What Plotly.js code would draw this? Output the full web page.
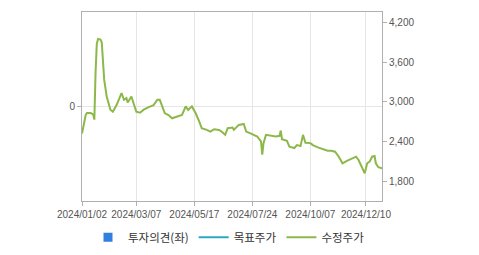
<!DOCTYPE html>
<html>
<head>
<meta charset="utf-8">
<script src="https://cdn.plot.ly/plotly-3.0.1.min.js"></script>
<style>
html,body{margin:0;padding:0;background:#fff;}
#chart{width:479px;height:255px;}
</style>
</head>
<body>
<div id="chart"></div>
<script>
// 수정주가 (adjusted price)
const priceDates = [
  '2024-01-02','2024-01-05','2024-01-08','2024-01-11','2024-01-15','2024-01-16','2024-01-17','2024-01-18',
  '2024-01-19','2024-01-22','2024-01-23','2024-01-24','2024-01-25','2024-01-26','2024-01-30','2024-02-02',
  '2024-02-06','2024-02-13','2024-02-19','2024-02-21','2024-02-23','2024-02-26','2024-02-29','2024-03-05',
  '2024-03-07','2024-03-12','2024-03-15','2024-03-21','2024-03-27','2024-04-01','2024-04-03','2024-04-05',
  '2024-04-09','2024-04-15','2024-04-18','2024-04-23','2024-04-25','2024-04-30','2024-05-07','2024-05-09',
  '2024-05-14','2024-05-20','2024-05-23','2024-05-27','2024-05-31','2024-06-05','2024-06-11','2024-06-17',
  '2024-06-19','2024-06-24','2024-06-26','2024-07-02','2024-07-03','2024-07-09','2024-07-15','2024-07-17',
  '2024-07-22','2024-07-25','2024-07-30','2024-08-01','2024-08-02','2024-08-05','2024-08-06','2024-08-08',
  '2024-08-14','2024-08-21','2024-08-26','2024-08-27','2024-08-28','2024-09-03','2024-09-05','2024-09-11',
  '2024-09-13','2024-09-23','2024-09-25','2024-09-27','2024-10-07','2024-10-10','2024-10-16','2024-10-22',
  '2024-10-28','2024-10-31','2024-11-05','2024-11-08','2024-11-13','2024-11-19','2024-11-25','2024-11-28',
  '2024-12-02','2024-12-04','2024-12-06','2024-12-09','2024-12-11','2024-12-13','2024-12-17','2024-12-19',
  '2024-12-20','2024-12-24','2024-12-30'
];
const priceValues = [
  2520,2800,2830,2830,2810,2730,3450,3880,
  3950,3950,3940,3900,3600,3330,3080,2880,
  2850,2950,3130,3030,3055,2990,3080,2980,
  2850,2835,2880,2920,2950,3030,3030,2930,
  2830,2800,2750,2770,2785,2800,2930,2875,
  2930,2830,2700,2600,2575,2550,2585,2575,
  2550,2500,2600,2610,2575,2650,2665,2550,
  2525,2500,2475,2425,2400,2200,2370,2500,
  2485,2475,2485,2565,2435,2410,2320,2300,
  2345,2330,2500,2380,2375,2345,2310,2280,
  2260,2260,2245,2170,2070,2110,2145,2170,
  2120,2045,1980,1920,2070,2095,2170,2180,
  2070,2010,1995
];
// 목표주가 and 투자의견: no values drawn in the picture (legend only)
const targetDates = ['2024-01-02'];
const targetValues = [null];
const opinionDates = ['2024-01-02'];
const opinionValues = [null];

const holidays = ['2024-02-09','2024-02-12','2024-03-01','2024-04-10','2024-05-01','2024-05-06',
  '2024-05-15','2024-06-06','2024-08-15','2024-09-16','2024-09-17','2024-09-18','2024-10-01',
  '2024-10-03','2024-10-09','2024-12-25'];
const xTicks = ['2024-01-02','2024-03-07','2024-05-17','2024-07-24','2024-10-07','2024-12-10'];
const xTickText = ['2024/01/02','2024/03/07','2024/05/17','2024/07/24','2024/10/07','2024/12/10'];
const y2Ticks = [1800,2400,3000,3600,4200];

const tickFont = {family:'"Liberation Sans", Arial, sans-serif', size:10, color:'#555'};

const traces = [
  {name:'투자의견(좌)', x:opinionDates, y:opinionValues, type:'scatter', mode:'markers',
   marker:{symbol:'square', size:9, color:'#2f7fe0'}, yaxis:'y', showlegend:true},
  {name:'목표주가', x:targetDates, y:targetValues, type:'scatter', mode:'lines',
   line:{color:'#2aaabf', width:2}, yaxis:'y2', showlegend:true},
  {name:'수정주가', x:priceDates, y:priceValues, type:'scatter', mode:'lines',
   line:{color:'#8cb84a', width:2}, yaxis:'y2', showlegend:true, hoverinfo:'skip'}
];

const layout = {
  width:479, height:255,
  margin:{l:82, r:97, t:12, b:54, pad:0},
  paper_bgcolor:'#fff', plot_bgcolor:'#fff',
  showlegend:true,
  legend:{orientation:'h', x:0.49, xanchor:'center', yref:'container', y:0.07, yanchor:'middle',
    font:{family:'"Noto Sans CJK KR", sans-serif', size:11.5, color:'#333'},
    itemwidth:30, tracegroupgap:0, traceorder:'normal'},
  xaxis:{type:'date', range:['2024-01-02','2024-12-30'], automargin:false,
    rangebreaks:[{bounds:['sat','mon']},{values:holidays}],
    tickvals:xTicks, ticktext:xTickText, tickfont:tickFont, tickangle:0,
    showgrid:true, gridcolor:'#e6e6e6', gridwidth:1,
    showline:true, linecolor:'#b0b0b0', linewidth:1, mirror:true,
    ticks:'outside', ticklen:4, tickcolor:'#b0b0b0', zeroline:false, fixedrange:true},
  yaxis:{range:[-1,1], tickvals:[0], ticktext:['0'], tickfont:tickFont, automargin:false,
    showgrid:true, gridcolor:'#e6e6e6', showline:true, linecolor:'#b0b0b0', linewidth:1,
    ticks:'outside', ticklen:4, tickcolor:'#b0b0b0', zeroline:false, fixedrange:true},
  yaxis2:{overlaying:'y', side:'right', range:[1500,4357], tickvals:y2Ticks, tickformat:',d',
    tickfont:tickFont, showgrid:false, showline:true, linecolor:'#b0b0b0', linewidth:1, automargin:false,
    ticks:'outside', ticklen:4, tickcolor:'#b0b0b0', zeroline:false, fixedrange:true}
};

Plotly.newPlot('chart', traces, layout, {staticPlot:true, displayModeBar:false});
</script>
</body>
</html>
